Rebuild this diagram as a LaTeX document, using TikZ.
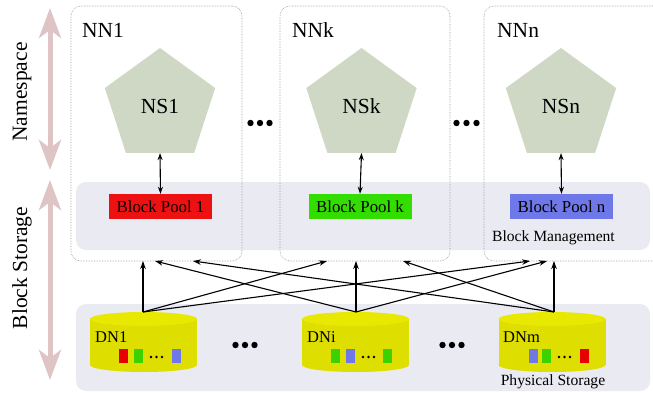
\documentclass[tikz,border=0pt]{standalone}
\usepackage{fontspec}
\setmainfont{Liberation Serif}
\usetikzlibrary{shapes.geometric,arrows.meta}
\definecolor{panel}{RGB}{234,234,243}
\definecolor{pent}{RGB}{207,216,197}
\definecolor{bpred}{RGB}{238,17,17}
\definecolor{bpgreen}{RGB}{51,221,0}
\definecolor{bpblue}{RGB}{110,120,232}
\definecolor{cylbody}{RGB}{222,222,0}
\definecolor{cyltop}{RGB}{232,232,0}
\definecolor{pinkarrow}{RGB}{222,196,196}
\definecolor{nnline}{RGB}{150,150,150}
\definecolor{sred}{RGB}{232,0,0}
\definecolor{sgreen}{RGB}{60,210,0}
\definecolor{sblue}{RGB}{112,120,232}
\begin{document}
\begin{tikzpicture}[x=1pt,y=-1pt,
 nnbox/.style={draw=nnline, densely dotted, line width=0.6pt, rounded corners=10pt, inner sep=0pt},
 panelbox/.style={fill=panel, rounded corners=10pt, inner sep=0pt},
 nsnode/.style={regular polygon, regular polygon sides=5, minimum size=116pt, inner sep=0pt, fill=pent, font=\fontsize{21.5}{24}\selectfont},
 poolbox/.style={minimum width=103pt, minimum height=25pt, inner sep=0pt, font=\fontsize{16.8}{19}\selectfont},
 biglabel/.style={font=\fontsize{21.5}{24}\selectfont, inner sep=0pt},
 smalllabel/.style={font=\fontsize{15.6}{18}\selectfont, inner sep=0pt},
 dnlabel/.style={font=\fontsize{16.5}{19}\selectfont, inner sep=0pt, anchor=west},
 link/.style={-{Stealth[length=8pt,width=5.5pt]}, line width=1.1pt},
 nsarrow/.style={{Stealth[length=7pt,width=5pt]}-{Stealth[length=7pt,width=5pt]}, line width=1.1pt},
 axisarrow/.style={{Stealth[length=30pt,width=22pt,inset=8pt]}-{Stealth[length=30pt,width=22pt,inset=8pt]}, line width=5pt, draw=pinkarrow},
 blk/.style={minimum width=9pt, minimum height=14pt, inner sep=0pt},
 cyl/.pic={
   \fill[cylbody] (0,53) ellipse (53.5 and 7);
   \fill[cylbody] (-53.5,7) rectangle (53.5,53);
   \fill[cyltop] (0,7) ellipse (53.5 and 7);
 },
]
\useasboundingbox (0,0) rectangle (653,393);
\clip (0,0) rectangle (653,393);

% side axes
\coordinate (nsTop) at (50,8);
\coordinate (nsBot) at (50,170);
\coordinate (bsTop) at (50,180);
\coordinate (bsBot) at (50,380);
\draw[axisarrow] (nsTop) -- (nsBot);
\draw[axisarrow] (bsTop) -- (bsBot);
\node[biglabel, rotate=90] (lblns) at (22,92) {Namespace};
\node[biglabel, rotate=90] (lblbs) at (22,268) {Block Storage};

% panels
\node[panelbox, minimum width=574pt, minimum height=68pt] (bm) at (363,216) {};
\node[panelbox, minimum width=574pt, minimum height=87pt] (ps) at (363,347.5) {};
\node[smalllabel] (bmlab) at (553.5,238) {Block Management};
\node[smalllabel] (pslab) at (553,382) {Physical Storage};

% namenode boxes
\node[nnbox, minimum width=171pt, minimum height=255pt] (nn1) at (156.5,133.5) {};
\node[nnbox, minimum width=170pt, minimum height=255pt] (nnk) at (365,133.5) {};
\node[nnbox, minimum width=190pt, minimum height=255pt] (nnn) at (579,133.5) {};
\node[biglabel, anchor=west] (nn1lab) at (82,30) {NN1};
\node[biglabel, anchor=west] (nnklab) at (292,30) {NNk};
\node[biglabel, anchor=west] (nnnlab) at (497,30) {NNn};

% namespaces
\node[nsnode] (ns1) at (160,106) {NS1};
\node[nsnode] (nsk) at (361.5,106) {NSk};
\node[nsnode] (nsn) at (561,106) {NSn};

% block pools
\node[poolbox, fill=bpred] (bp1) at (160.5,206.5) {Block Pool 1};
\node[poolbox, fill=bpgreen] (bpk) at (360,206.5) {Block Pool k};
\node[poolbox, fill=bpblue] (bpn) at (561.5,206.5) {Block Pool n};

\draw[nsarrow] (ns1.south) -- (bp1.north);
\draw[nsarrow] (nsk.south) -- (bpk.north);
\draw[nsarrow] (nsn.south) -- (bpn.north);

% big ellipses
\foreach \x in {250.5,260,269.5,456.5,466.5,476.5} \fill (\x,123) circle (3.2);
\foreach \x in {235.5,245,254.5,442.5,452,461.5} \fill (\x,345) circle (3.2);

% datanodes
\pic at (143.5,312) {cyl};
\pic at (355.5,312) {cyl};
\pic at (552,312) {cyl};
\node[dnlabel] (dn1lab) at (95,337) {DN1};
\node[dnlabel] (dnilab) at (307,337) {DNi};
\node[dnlabel] (dnmlab) at (503,337) {DNm};

\node[blk, fill=sred] (b11) at (123.5,356) {};
\node[blk, fill=sgreen] (b12) at (138.5,356) {};
\node[blk, fill=sblue] (b13) at (176.5,356) {};
\node[blk, fill=sgreen] (b21) at (335.5,356) {};
\node[blk, fill=sblue] (b22) at (350.5,356) {};
\node[blk, fill=sgreen] (b23) at (387.5,356) {};
\node[blk, fill=sblue] (b31) at (533.5,356) {};
\node[blk, fill=sgreen] (b32) at (546.5,356) {};
\node[blk, fill=sred] (b33) at (584.5,356) {};
\foreach \x in {151,156.5,162,363,368.5,374,559,564.5,570} \fill (\x,357) circle (1.3);

% connectors
\coordinate (dn1) at (143,312);
\coordinate (dni) at (356,312);
\coordinate (dnm) at (554,312);
\coordinate (t1a) at (143,261);
\coordinate (t1b) at (155,261);
\coordinate (t1c) at (193,261);
\coordinate (tka) at (327,261);
\coordinate (tkb) at (356,261);
\coordinate (tkc) at (403,261);
\coordinate (tna) at (530,261);
\coordinate (tnb) at (547,261);
\coordinate (tnc) at (554,261);
\draw[link] (dn1) -- (t1a);
\draw[link] (dn1) -- (tka);
\draw[link] (dn1) -- (tna);
\draw[link] (dni) -- (t1b);
\draw[link] (dni) -- (tkb);
\draw[link] (dni) -- (tnb);
\draw[link] (dnm) -- (t1c);
\draw[link] (dnm) -- (tkc);
\draw[link] (dnm) -- (tnc);
\end{tikzpicture}
\end{document}
